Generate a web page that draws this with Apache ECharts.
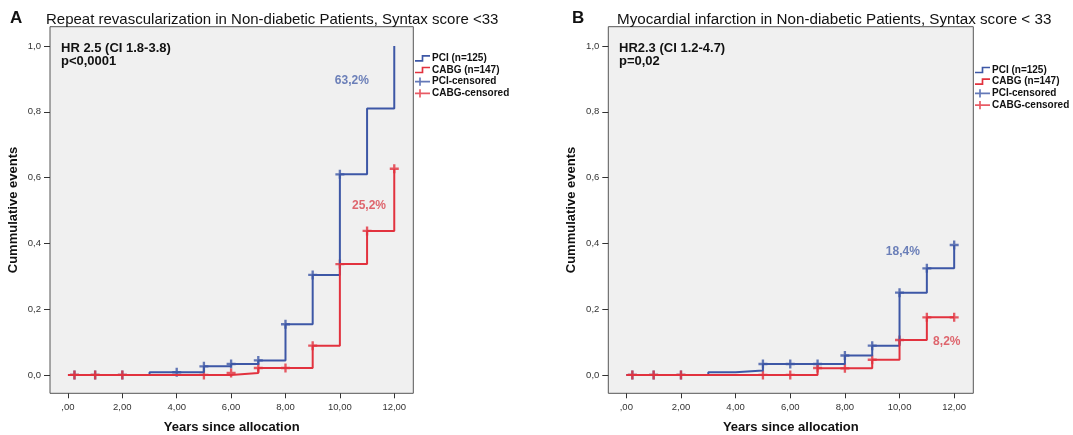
<!DOCTYPE html>
<html>
<head>
<meta charset="utf-8">
<script src="https://cdn.jsdelivr.net/npm/echarts@6/dist/echarts.min.js"></script>
<style>
html,body{margin:0;padding:0;background:#fff;}
#c{width:1073px;height:435px;}
</style>
</head>
<body>
<div id="c"></div>
<script>
// ---------- data ----------
const xTicks = [0, 2, 4, 6, 8, 10, 12];
const xTickLabels = [',00', '2,00', '4,00', '6,00', '8,00', '10,00', '12,00'];
const yTicks = [0, 0.2, 0.4, 0.6, 0.8, 1.0];
const yTickLabels = ['0,0', '0,2', '0,4', '0,6', '0,8', '1,0'];

const seriesNames = ['PCI (n=125)', 'CABG (n=147)', 'PCI-censored', 'CABG-censored'];

// Panel A: Repeat revascularization
const aPciT = [0, 3, 5, 6, 7, 8, 9, 10, 11, 12];
const aPciV = [0, 0.008, 0.026, 0.033, 0.044, 0.154, 0.304, 0.61, 0.81, 1.0];
const aPciCensT = [0.24, 1, 2, 4, 5, 6, 7, 8, 9, 10];
const aPciCensV = [0, 0, 0, 0.008, 0.026, 0.033, 0.044, 0.154, 0.304, 0.61];
const aCabgT = [0, 6, 7, 9, 10, 11, 12];
const aCabgV = [0, 0.006, 0.021, 0.089, 0.337, 0.438, 0.627];
const aCabgCensT = [0.24, 1, 2, 5, 6, 7, 8, 9, 10, 11, 12];
const aCabgCensV = [0, 0, 0, 0, 0.006, 0.021, 0.021, 0.089, 0.337, 0.438, 0.627];

// Panel B: Myocardial infarction
const bPciT = [0, 3, 4, 5, 8, 9, 10, 11, 12];
const bPciV = [0, 0.008, 0.013, 0.033, 0.059, 0.089, 0.25, 0.324, 0.395];
const bPciCensT = [0.22, 1, 2, 5, 6, 7, 8, 9, 10, 11, 12];
const bPciCensV = [0, 0, 0, 0.033, 0.033, 0.033, 0.059, 0.089, 0.25, 0.324, 0.395];
const bCabgT = [0, 7, 9, 10, 11, 12];
const bCabgV = [0, 0.02, 0.046, 0.106, 0.175, 0.175];
const bCabgCensT = [0.22, 1, 2, 5, 6, 7, 8, 9, 10, 11, 12];
const bCabgCensV = [0, 0, 0, 0, 0, 0.021, 0.02, 0.046, 0.106, 0.175, 0.175];

// annotations [x, y, text]
const aNotes = [[10.44, 0.894, '63,2%', 'pci'], [11.07, 0.514, '25,2%', 'cabg']];
const bNotes = [[10.12, 0.375, '18,4%', 'pci'], [11.73, 0.101, '8,2%', 'cabg']];

// ---------- styles ----------
const BLUE = '#3d57a6';
const RED = '#e2323e';
const BLUE_TXT = '#4a63aa';
const RED_TXT = '#d9424c';
const FONT = 'Liberation Sans, Arial, sans-serif';
const PLUS = 'path://M3.7,0 L6.3,0 L6.3,3.7 L10,3.7 L10,6.3 L6.3,6.3 L6.3,10 L3.7,10 L3.7,6.3 L0,6.3 L0,3.7 L3.7,3.7 Z';
const STEP_ICON = 'path://M0,7 L8,7 L8,1 L18,1 L18,3 L10,3 L10,9 L0,9 Z';
const CENS_ICON = 'path://M0,4 L5,4 L5,0 L7,0 L7,4 L18,4 L18,6 L7,6 L7,10 L5,10 L5,6 L0,6 Z';

const zip = (t, v) => t.map((x, i) => [x, v[i]]);

function axesFor(idx) {
  const x = {
    type: 'value', gridIndex: idx, min: -0.66, max: 12.7,
    name: 'Years since allocation', nameLocation: 'middle', nameGap: 28,
    nameTextStyle: { fontFamily: FONT, fontSize: 13, fontWeight: 'bold', color: '#111' },
    axisLine: { show: false, onZero: false },
    splitLine: { show: false },
    axisTick: { show: true, length: 5, customValues: xTicks, lineStyle: { color: '#333', width: 1 } },
    axisLabel: {
      customValues: xTicks, margin: 9, fontFamily: FONT, fontSize: 9.5, color: '#333',
      formatter: v => xTickLabels[xTicks.indexOf(v)]
    }
  };
  const y = {
    type: 'value', gridIndex: idx, min: -0.056, max: 1.059,
    name: 'Cummulative events', nameLocation: 'middle', nameGap: 30,
    nameTextStyle: { fontFamily: FONT, fontSize: 13, fontWeight: 'bold', color: '#111' },
    axisLine: { show: false, onZero: false },
    splitLine: { show: false },
    axisTick: { show: true, length: 6, customValues: yTicks, lineStyle: { color: '#333', width: 1 } },
    axisLabel: {
      customValues: yTicks, margin: 9, fontFamily: FONT, fontSize: 9.5, color: '#333',
      formatter: v => yTickLabels[yTicks.indexOf(Math.round(v * 10) / 10)]
    }
  };
  return [x, y];
}

function seriesFor(idx, pciT, pciV, pciCT, pciCV, cabgT, cabgV, cabgCT, cabgCV, notes) {
  const line = (name, data, color) => ({
    name, type: 'line', step: 'end', xAxisIndex: idx, yAxisIndex: idx,
    data, symbol: 'none', color, lineStyle: { color, width: 2 }, silent: true
  });
  const cens = (name, data, color) => ({
    name, type: 'scatter', xAxisIndex: idx, yAxisIndex: idx,
    data, symbol: PLUS, symbolSize: 9, color, itemStyle: { color }, silent: true
  });
  return [
    line(seriesNames[0], zip(pciT, pciV), BLUE),
    cens(seriesNames[2], zip(pciCT, pciCV), BLUE),
    line(seriesNames[1], zip(cabgT, cabgV), RED),
    cens(seriesNames[3], zip(cabgCT, cabgCV), RED),
    {
      type: 'scatter', xAxisIndex: idx, yAxisIndex: idx, symbolSize: 1, silent: true,
      itemStyle: { color: 'transparent' },
      data: notes.map(n => ({
        value: [n[0], n[1]],
        label: {
          show: true, position: 'inside', formatter: n[2],
          fontFamily: FONT, fontSize: 12, fontWeight: 'bold',
          color: n[3] === 'pci' ? BLUE_TXT : RED_TXT
        }
      }))
    }
  ];
}

function legendFor(left, top) {
  return {
    orient: 'vertical', left, top, padding: 0, itemGap: 1.7,
    itemWidth: 15, itemHeight: 10, selectedMode: false,
    textStyle: { fontFamily: FONT, fontSize: 10, fontWeight: 'bold', color: '#111', padding: [0, 0, 0, -3] },
    data: [
      { name: seriesNames[0], icon: STEP_ICON },
      { name: seriesNames[1], icon: STEP_ICON },
      { name: seriesNames[2], icon: CENS_ICON },
      { name: seriesNames[3], icon: CENS_ICON }
    ]
  };
}

const [xa, ya] = axesFor(0);
const [xb, yb] = axesFor(1);

const gridStyle = { show: true, backgroundColor: '#f0f0f0', borderColor: '#555', borderWidth: 1,
  containLabel: false, outerBoundsMode: 'none' };

const option = {
  animation: false,
  backgroundColor: '#fff',
  title: [
    { text: 'A', left: 10, top: 10, padding: 0, textStyle: { fontFamily: FONT, fontSize: 17, fontWeight: 'bold', color: '#111' } },
    { text: 'Repeat revascularization in Non-diabetic Patients, Syntax score <33', left: 46, top: 12, padding: 0,
      textStyle: { fontFamily: FONT, fontSize: 15, fontWeight: 'normal', color: '#111' } },
    { text: 'B', left: 572, top: 10, padding: 0, textStyle: { fontFamily: FONT, fontSize: 17, fontWeight: 'bold', color: '#111' } },
    { text: 'Myocardial infarction in Non-diabetic Patients, Syntax score < 33', left: 617, top: 12, padding: 0,
      textStyle: { fontFamily: FONT, fontSize: 15.2, fontWeight: 'normal', color: '#111' } }
  ],
  grid: [
    Object.assign({ left: 50, top: 26.7, width: 363.3, height: 366.6 }, gridStyle),
    Object.assign({ left: 608.3, top: 26.7, width: 365, height: 366.6 }, gridStyle)
  ],
  xAxis: [xa, xb],
  yAxis: [ya, yb],
  legend: [legendFor(415, 53.3), legendFor(975, 65)],
  graphic: [
    { type: 'text', left: 61, top: 42, silent: true,
      style: { text: 'HR 2.5 (CI 1.8-3.8)\np<0,0001', font: 'bold 13px ' + FONT, lineHeight: 12.5, fill: '#111' } },
    { type: 'text', left: 619, top: 42, silent: true,
      style: { text: 'HR2.3 (CI 1.2-4.7)\np=0,02', font: 'bold 13px ' + FONT, lineHeight: 12.5, fill: '#111' } }
  ],
  series: [
    ...seriesFor(0, aPciT, aPciV, aPciCensT, aPciCensV, aCabgT, aCabgV, aCabgCensT, aCabgCensV, aNotes),
    ...seriesFor(1, bPciT, bPciV, bPciCensT, bPciCensV, bCabgT, bCabgV, bCabgCensT, bCabgCensV, bNotes)
  ]
};

const chart = echarts.init(document.getElementById('c'), null, { renderer: 'canvas' });
chart.setOption(option);
</script>
</body>
</html>
